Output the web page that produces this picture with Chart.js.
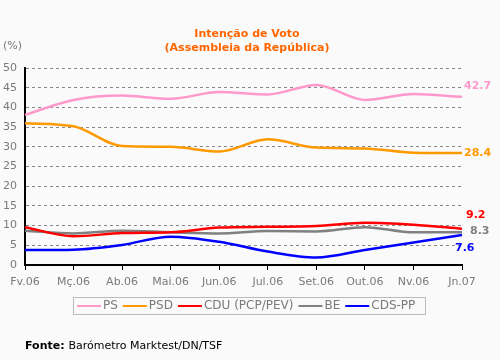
<!DOCTYPE html>
<html>
<head>
<meta charset="utf-8">
<script src="https://cdn.jsdelivr.net/npm/chart.js@4"></script>
<style>
  html, body { margin: 0; padding: 0; background: #fafafa; }
  #wrap { width: 500px; height: 360px; }
</style>
</head>
<body>
<div id="wrap"><canvas id="votoChart" width="500" height="360"></canvas></div>
<script>
const months = ['Fv.06', 'Mç.06', 'Ab.06', 'Mai.06', 'Jun.06', 'Jul.06', 'Set.06', 'Out.06', 'Nv.06', 'Jn.07'];
const yTicks = [0, 5, 10, 15, 20, 25, 30, 35, 40, 45, 50];

const ps = [38.1, 41.9, 43.0, 42.2, 43.9, 43.3, 45.7, 41.9, 43.4, 42.7];
const psd = [36.0, 35.2, 30.2, 30.0, 28.8, 31.9, 29.8, 29.6, 28.5, 28.4];
const cdu = [9.6, 7.3, 8.1, 8.3, 9.5, 9.7, 9.9, 10.7, 10.2, 9.2];
const be = [8.7, 8.0, 8.7, 8.3, 8.0, 8.6, 8.5, 9.6, 8.3, 8.3];
const cdsPp = [3.8, 3.9, 5.1, 7.2, 5.9, 3.4, 1.9, 3.8, 5.7, 7.6];

const FONT = '"DejaVu Sans", Verdana, sans-serif';
const GREY = '#7a7a7a';

function serie(label, data, color, endDx, endDy) {
  return {
    label, data,
    borderColor: color,
    backgroundColor: color,
    borderWidth: 2.5,
    pointRadius: 0,
    cubicInterpolationMode: 'monotone',
    fill: false,
    endDx, endDy
  };
}

const extras = {
  id: 'extras',
  afterDraw(chart) {
    const ctx = chart.ctx;
    const { x, y } = chart.scales;
    ctx.save();

    // titre
    ctx.fillStyle = '#ff6600';
    ctx.font = 'bold 11px ' + FONT;
    ctx.textAlign = 'center';
    ctx.textBaseline = 'middle';
    ctx.fillText('Intenção de Voto', 247, 34);
    ctx.fillText('(Assembleia da República)', 247, 48);

    ctx.fillStyle = GREY;
    ctx.font = '11px ' + FONT;
    ctx.textAlign = 'left';
    ctx.fillText('(%)', 3, 46);

    // valeurs finales
    ctx.font = 'bold 11px ' + FONT;
    chart.data.datasets.forEach(ds => {
      const last = ds.data.length - 1;
      ctx.fillStyle = ds.borderColor;
      ctx.fillText(ds.data[last].toFixed(1), x.getPixelForValue(last) + ds.endDx, y.getPixelForValue(ds.data[last]) + ds.endDy);
    });

    // légende
    ctx.strokeStyle = '#bbbbbb';
    ctx.lineWidth = 1;
    ctx.strokeRect(73.5, 297.5, 352, 17);
    ctx.font = '12px ' + FONT;
    let lx = 77;
    chart.data.datasets.forEach(ds => {
      ctx.strokeStyle = ds.borderColor;
      ctx.lineWidth = 2;
      ctx.beginPath();
      ctx.moveTo(lx, 306);
      ctx.lineTo(lx + 24, 306);
      ctx.stroke();
      ctx.fillStyle = GREY;
      ctx.fillText(ds.label, lx + 26, 306);
      lx += 26 + ctx.measureText(ds.label).width + 5;
    });

    // source
    ctx.fillStyle = '#000';
    ctx.font = 'bold 11px ' + FONT;
    ctx.fillText('Fonte:', 25, 346);
    const w = ctx.measureText('Fonte: ').width;
    ctx.font = '11px ' + FONT;
    ctx.fillText('Barómetro Marktest/DN/TSF', 25 + w, 346);
    ctx.restore();
  }
};

new Chart(document.getElementById('votoChart'), {
  type: 'line',
  data: {
    labels: months,
    datasets: [
      serie('PS', ps, '#ff99cc', 2, -11),
      serie('PSD', psd, '#ff9900', 2, 0),
      serie('CDU (PCP/PEV)', cdu, '#ff0000', 4, -14),
      serie('BE', be, '#808080', 8, -1),
      serie('CDS-PP', cdsPp, '#0000ff', -7, 13)
    ]
  },
  options: {
    responsive: false,
    animation: false,
    layout: { padding: { top: 68, right: 38, bottom: 70, left: 0 } },
    plugins: { legend: { display: false }, title: { display: false }, tooltip: { enabled: false } },
    scales: {
      x: {
        offset: false,
        afterFit: s => { s.height = 25; },
        grid: { drawOnChartArea: false, tickLength: 5, color: '#000' },
        border: { color: '#000', width: 2 },
        ticks: { color: GREY, font: { family: FONT, size: 11 }, padding: 6, maxRotation: 0, autoSkip: false }
      },
      y: {
        min: 0, max: 50,
        afterFit: s => { s.width = 25; },
        afterBuildTicks: s => { s.ticks = yTicks.map(v => ({ value: v })); },
        grid: { color: '#888', lineWidth: 1, drawTicks: false },
        border: { color: '#000', width: 2, dash: [3, 3] },
        ticks: { color: GREY, font: { family: FONT, size: 11 }, padding: 8 }
      }
    }
  },
  plugins: [extras]
});
</script>
</body>
</html>
